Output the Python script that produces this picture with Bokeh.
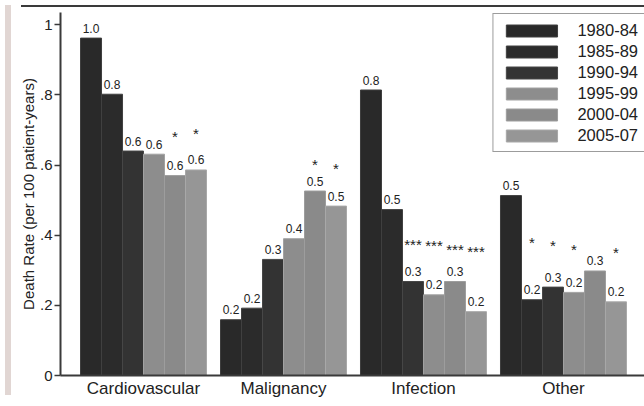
from bokeh.plotting import figure
from bokeh.models import (ColumnDataSource, FactorRange, Range1d, FixedTicker,
                          Legend, LegendItem, Div)
from bokeh.transform import dodge
from bokeh.layouts import row, column
from bokeh.core.properties import value
from bokeh.embed import file_html
from bokeh.resources import INLINE

# ---------------- data ----------------
categories = ["Cardiovascular", "Malignancy", "Infection", "Other"]
periods = ["1980-84", "1985-89", "1990-94", "1995-99", "2000-04", "2005-07"]

rate_1980_84 = [0.962, 0.159, 0.814, 0.513]
rate_1985_89 = [0.802, 0.192, 0.473, 0.216]
rate_1990_94 = [0.640, 0.331, 0.268, 0.252]
rate_1995_99 = [0.631, 0.390, 0.230, 0.237]
rate_2000_04 = [0.570, 0.526, 0.268, 0.298]
rate_2005_07 = [0.586, 0.483, 0.182, 0.210]

# significance markers and the height at which they are printed
star_1980_84 = ["", "", "", ""]
star_1985_89 = ["", "", "", "*"]
star_1990_94 = ["", "", "***", "*"]
star_1995_99 = ["", "", "***", "*"]
star_2000_04 = ["*", "*", "***", ""]
star_2005_07 = ["*", "*", "***", "*"]
nan = float("nan")
stary_1980_84 = [nan, nan, nan, nan]
stary_1985_89 = [nan, nan, nan, 0.406]
stary_1990_94 = [nan, nan, 0.399, 0.395]
stary_1995_99 = [nan, nan, 0.395, 0.385]
stary_2000_04 = [0.707, 0.627, 0.384, nan]
stary_2005_07 = [0.715, 0.615, 0.378, 0.376]

y_ticks = [0, 0.2, 0.4, 0.6, 0.8, 1]
y_tick_labels = ["0", ".2", ".4", ".6", ".8", "1"]

rates = [rate_1980_84, rate_1985_89, rate_1990_94, rate_1995_99, rate_2000_04, rate_2005_07]
stars = [star_1980_84, star_1985_89, star_1990_94, star_1995_99, star_2000_04, star_2005_07]
star_ys = [stary_1980_84, stary_1985_89, stary_1990_94, stary_1995_99, stary_2000_04, stary_2005_07]

# ---------------- styles ----------------
fills = ["#292929", "#2b2b2b", "#333333", "#8d8d8d", "#8a8a8a", "#969696"]
lines = ["#3e3e3e", "#404040", "#474747", "#a2a2a2", "#9d9d9d", "#a8a8a8"]
FONTN = "Liberation Sans"
FONT = value(FONTN)
TXT = "#222222"
AX = "#3a3a3a"

p = figure(
    x_range=FactorRange(factors=categories, range_padding=0.093, range_padding_units="absolute"),
    y_range=Range1d(0, 1.035),
    width=630, height=388,
    output_backend="svg", toolbar_location=None,
    min_border_left=44, min_border_right=0, min_border_top=0, min_border_bottom=0,
)
p.background_fill_color = "white"
p.border_fill_color = "white"
p.outline_line_color = None
p.xgrid.grid_line_color = None
p.ygrid.grid_line_color = None

bar_w = 0.15
items = []
for i, per in enumerate(periods):
    src = ColumnDataSource(dict(
        cat=categories,
        rate=rates[i],
        lab=[f"{v:.1f}" for v in rates[i]],
        star=stars[i],
        sy=star_ys[i],
    ))
    off = (i - 2.5) * bar_w
    xd = dodge("cat", off, range=p.x_range)
    r = p.vbar(x=xd, top="rate", width=bar_w, source=src,
               fill_color=fills[i], line_color=lines[i], line_width=1)
    p.text(x=xd, y="rate", text="lab", source=src, text_font=FONT,
           text_font_size="12px", text_color=TXT, text_align="center",
           text_baseline="alphabetic", y_offset=-10)
    p.text(x=xd, y="sy", text="star", source=src, text_font=FONT,
           text_font_size="15px", text_color=TXT, text_align="center",
           text_baseline="alphabetic", y_offset=9)
    items.append(LegendItem(label=per, renderers=[r]))

legend = Legend(items=items, location="top_right", margin=1, padding=6,
                spacing=1, glyph_width=64, glyph_height=15, label_height=20,
                label_standoff=14, label_text_font=FONTN, label_text_font_size="16.5px",
                label_text_color=TXT, border_line_color=AX, border_line_width=1.5,
                background_fill_color="white", background_fill_alpha=1)
p.add_layout(legend)

# y axis
p.yaxis.ticker = FixedTicker(ticks=y_ticks)
p.yaxis.major_label_overrides = dict(zip(y_ticks, y_tick_labels))
p.yaxis.minor_tick_line_color = None
p.yaxis.major_tick_in = 0
p.yaxis.major_tick_out = 6
p.yaxis.major_tick_line_color = AX
p.yaxis.major_tick_line_width = 1.5
p.yaxis.axis_line_color = AX
p.yaxis.axis_line_width = 2
p.yaxis.major_label_text_font = FONTN
p.yaxis.major_label_text_font_size = "15px"
p.yaxis.major_label_text_color = TXT
p.yaxis.major_label_standoff = 2
p.yaxis.axis_label = "Death Rate (per 100 patient-years)"
p.yaxis.axis_label_text_font = FONTN
p.yaxis.axis_label_text_font_size = "15px"
p.yaxis.axis_label_text_font_style = "normal"
p.yaxis.axis_label_text_color = TXT
p.yaxis.axis_label_text_line_height = 1.0
p.yaxis.axis_label_standoff = 0

# x axis (bottom)
xa = p.below[0]
xa.major_tick_line_color = None
xa.minor_tick_line_color = None
xa.major_tick_out = 0
xa.major_tick_in = 0
xa.axis_line_color = AX
xa.axis_line_width = 2
xa.major_label_text_font = FONTN
xa.major_label_text_font_size = "17px"
xa.major_label_text_color = TXT
xa.major_label_text_line_height = 1.0
xa.major_label_standoff = 3

strip = Div(text="", width=6, height=390, styles={"background-color": "#e1d6d3"})
top_line = Div(text="", width=630, height=2, styles={"background-color": AX})
layout = row(strip, column(top_line, p, spacing=0), spacing=0)

open("out.html", "w").write(file_html(layout, INLINE))
